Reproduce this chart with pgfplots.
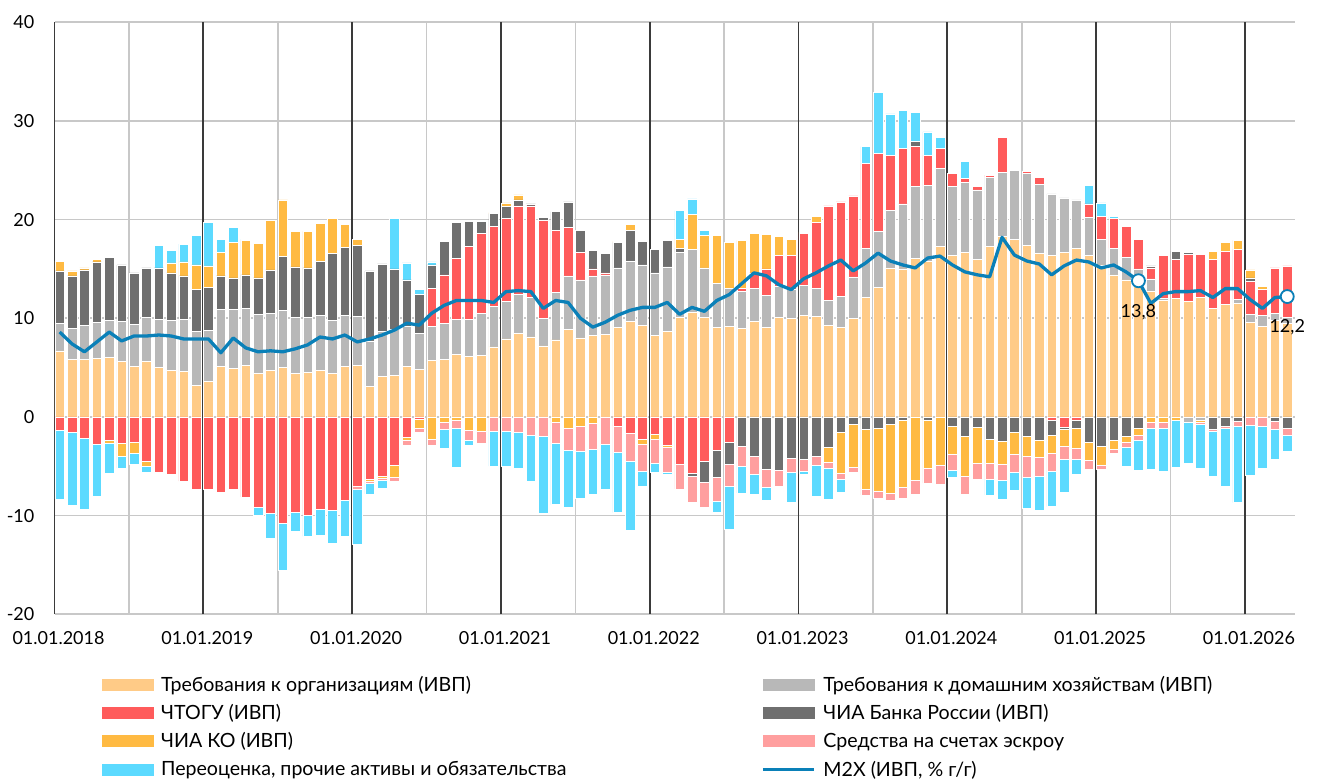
\documentclass[border=0pt]{standalone}
\usepackage{fontspec}
\setmainfont{Lato}
\usepackage{pgfplots}
\pgfplotsset{compat=1.18}
\usepackage{pgfplotstable}

\definecolor{orgc}{HTML}{FFCB87}
\definecolor{hhc}{HTML}{B8B8B8}
\definecolor{govc}{HTML}{FF5B5B}
\definecolor{cbrc}{HTML}{6F6F6F}
\definecolor{koc}{HTML}{FFBA42}
\definecolor{escc}{HTML}{FF9F9F}
\definecolor{revc}{HTML}{5CDAFF}
\definecolor{m2xc}{HTML}{0A80B8}
\definecolor{gridc}{HTML}{C8C8C8}
\definecolor{yearc}{HTML}{3A3A3A}

\pgfplotstableread{
i org hh gov cbr ko esc rev m2x
0 6.7 2.8 -1.4 5.3 1.0 0 -6.9 8.6
1 5.8 3.2 -1.6 5.3 0.5 0 -7.4 7.4
2 5.8 3.5 -2.2 5.6 0.2 0 -7.2 6.6
3 5.9 3.7 -2.8 6.1 0.3 0 -5.2 7.6
4 6.0 3.8 -2.4 6.4 -0.3 0 -3.0 8.6
5 5.6 4.1 -2.7 5.7 -1.3 0 -1.2 7.7
6 5.1 4.3 -2.6 5.2 -1.1 0 -1.1 8.2
7 5.6 4.5 -4.5 5.0 -0.5 0 -0.6 8.2
8 5.0 4.9 -5.6 5.2 -0.1 0 2.3 8.3
9 4.7 5.1 -5.8 4.8 1.0 0 1.3 8.2
10 4.6 5.3 -6.5 4.4 1.4 0 1.8 7.9
11 3.2 5.5 -7.3 4.2 2.5 0 3.0 7.9
12 3.6 5.2 -7.3 4.3 2.2 0 4.4 7.9
13 5.1 5.8 -7.6 3.4 2.4 0 1.3 6.5
14 4.9 6.0 -7.3 3.2 3.6 0 1.5 8.0
15 5.2 5.8 -8.1 3.4 3.5 0 0.1 7.0
16 4.4 6.0 -9.2 3.7 3.5 0 -0.8 6.6
17 4.7 5.8 -9.8 4.4 5.0 0 -2.5 6.7
18 5.0 5.8 -10.8 5.5 5.7 0 -4.7 6.6
19 4.4 5.7 -9.7 5.1 3.6 0 -1.9 6.9
20 4.5 5.6 -10.0 5.0 3.7 0 -2.1 7.3
21 4.7 5.6 -9.4 5.5 3.8 0 -2.6 8.1
22 4.4 5.4 -9.5 6.8 3.5 0 -3.3 7.9
23 5.1 5.2 -8.4 6.9 2.3 0 -3.7 8.3
24 5.2 5.0 -7.0 7.2 0.6 -0.3 -5.6 7.6
25 3.1 4.6 -6.3 7.1 -0.2 -0.2 -1.1 7.9
26 4.1 4.6 -6.0 6.8 -0.2 -0.2 -0.8 8.3
27 4.2 4.7 -4.9 6.1 -1.2 -0.4 5.1 8.8
28 5.1 4.1 -2.1 4.7 -0.3 -0.5 1.7 9.5
29 4.8 3.7 -0.2 3.9 -0.9 -0.5 0.5 9.3
30 5.7 3.5 3.8 2.4 -2.3 -0.6 0.3 10.5
31 5.8 3.7 4.9 3.4 -0.5 -0.8 -1.9 11.3
32 6.3 3.6 6.2 3.6 -0.3 -0.9 -3.9 11.8
33 6.1 3.8 7.4 2.5 -1.4 -1.0 -0.5 11.8
34 6.2 4.3 8.1 1.2 -1.5 -1.2 0 11.8
35 7.1 4.1 8.1 1.3 0.1 -1.5 -3.5 11.6
36 7.9 3.8 8.4 1.2 0.4 -1.5 -3.5 12.7
37 8.5 3.9 9.0 0.6 0.5 -1.6 -3.6 12.8
38 8.1 4.0 9.3 0.2 0 -1.9 -4.6 12.7
39 7.2 2.8 9.9 0.3 0 -2.0 -7.8 11.0
40 7.8 4.8 6.3 1.9 -0.5 -2.2 -6.2 11.8
41 8.9 5.4 4.9 2.6 -1.1 -2.3 -5.8 11.6
42 8.0 5.9 2.8 2.2 -0.9 -2.6 -4.7 10.0
43 8.3 6.0 0.7 1.9 -0.6 -2.7 -4.5 9.1
44 8.4 6.0 0.2 2.0 0 -2.8 -4.5 9.6
45 9.1 6.0 -0.9 2.6 0.1 -2.7 -6.1 10.3
46 9.7 6.1 -1.7 3.1 0.6 -2.8 -7.0 10.8
47 9.3 6.1 -2.3 2.4 -0.5 -2.7 -1.5 11.1
48 8.3 6.3 -1.8 2.4 -0.5 -2.4 -0.9 11.1
49 8.7 6.5 -2.9 2.7 -0.2 -2.5 -0.2 11.6
50 10.1 6.6 -4.8 0.4 0.9 -2.5 2.9 10.4
51 10.6 6.4 -5.7 -0.3 3.5 -2.7 1.6 11.1
52 10.1 5.0 -4.5 -2.1 3.3 -2.6 0.5 10.7
53 9.1 4.4 -3.4 -2.7 4.9 -2.4 -1.2 11.8
54 9.2 3.8 -2.6 -2.2 4.7 -2.2 -4.4 12.4
55 9.0 3.7 0.3 -3.0 4.9 -2.0 -2.7 13.5
56 9.7 3.3 1.6 -4.0 4.0 -1.8 -2.0 14.6
57 9.1 3.2 2.7 -5.3 3.5 -1.8 -1.3 14.3
58 10.1 3.1 3.2 -5.4 1.9 -1.6 -0.1 13.4
59 10.0 2.9 3.5 -4.2 1.6 -1.4 -3.0 12.9
60 10.3 3.0 5.3 -4.3 0.1 -1.2 -0.3 14.0
61 10.2 2.8 6.7 -4.0 0.6 -0.9 -3.1 14.6
62 9.3 2.5 9.6 -3.1 -1.5 -0.6 -3.1 15.3
63 9.1 3.1 9.6 -1.6 -4.1 -0.6 -1.3 15.9
64 10.0 4.2 8.2 -0.7 -4.4 -0.5 -0.1 14.8
65 12.1 5.0 8.6 -1.3 -6.0 -0.6 1.7 15.6
66 13.1 5.7 7.9 -1.2 -6.3 -0.7 6.2 16.6
67 15.1 5.8 5.6 -0.7 -7.0 -0.7 4.2 15.8
68 15.0 6.6 5.6 -0.3 -6.8 -1.1 3.9 15.4
69 16.1 7.3 4.0 0.5 -6.4 -1.4 3.0 15.1
70 15.8 7.7 3.0 -0.3 -4.9 -1.5 2.4 16.1
71 17.3 7.9 2.0 0 -4.9 -1.9 1.1 16.3
72 16.4 7.0 1.3 -0.9 -2.9 -1.6 -0.7 15.4
73 16.7 7.1 0.4 -2.0 -4.0 -1.8 1.7 14.7
74 16.0 7.0 0.4 -1.0 -3.7 -1.6 0.05 14.4
75 17.3 7.0 0.2 -2.3 -2.4 -1.6 -1.6 14.2
76 18.3 6.5 3.5 -2.5 -2.3 -1.6 -1.9 18.2
77 18.0 7.0 0 -1.6 -2.2 -1.8 -1.8 16.4
78 17.4 7.3 0.2 -2.0 -2.0 -2.1 -3.2 15.8
79 16.6 7.0 0.7 -2.4 -1.7 -1.9 -3.5 15.5
80 16.4 6.2 -0.3 -1.6 -1.8 -1.8 -3.6 14.4
81 16.7 5.5 -1.0 -0.3 -1.7 -1.3 -3.3 15.3
82 17.1 4.9 -0.3 -0.9 -2.0 -1.1 -1.5 15.9
83 16.4 3.8 1.4 -2.6 -1.8 -0.9 1.9 15.7
84 15.4 2.6 2.3 -3.0 -1.9 -0.4 1.4 15.1
85 14.4 2.7 3.0 -2.4 -0.9 -0.4 0.2 15.4
86 13.9 2.3 3.1 -2.0 -0.6 -0.5 -1.9 14.7
87 14.0 1.0 3.0 -1.2 -0.7 -0.5 -3.0 13.8
88 12.7 1.3 1.1 0.2 -0.5 -0.6 -4.2 11.5
89 11.8 0.2 4.4 0 -0.5 -0.6 -4.4 12.5
90 12.0 0 4.0 0.8 -0.3 0 -4.8 12.7
91 11.7 -0.5 4.8 0.2 0 0 -4.2 12.7
92 12.1 -0.3 4.4 0.1 -0.2 -0.2 -4.5 12.8
93 11.0 0 5.0 -1.3 0.8 -0.2 -4.5 12.1
94 11.4 0 5.4 -0.9 0.9 -0.3 -5.8 13.0
95 11.5 0.4 5.1 -0.4 0.9 -0.5 -7.8 13.0
96 9.6 0.8 3.3 0.4 0.8 -0.8 -5.1 11.9
97 9.2 1.1 2.6 0 0.3 -0.9 -4.3 11.0
98 9.8 0.7 4.6 -0.4 0 -0.9 -3.0 12.1
99 9.5 0.6 5.2 -1.1 0 -0.8 -1.6 12.2
}\data

\pgfplotstableread{
i v lab
87 13.8 13,8
99 12.2 12,2
}\marks

\pgfplotsset{
  base/.style={at={(44,168)}, anchor=south west, scale only axis,
    width=1240pt, height=592pt, xmin=0, xmax=100, ymin=-20, ymax=40},
  hid/.style={base, axis lines=none, xtick=\empty, ytick=\empty},
  stk/.style={hid, ybar stacked, bar width=0.76, bar shift=0pt},
  seg/.style={fill=#1, draw=white, line width=0.5pt},
}

\newcommand{\lbox}[1]{\makebox[597pt][l]{#1}}

\begin{document}
\begin{tikzpicture}[x=1pt,y=1pt]
% horizontal grid and tick labels
\begin{axis}[base, axis line style={draw=none}, tick style={draw=none},
  ymajorgrids, major grid style={gridc, line width=1.5pt},
  ytick={-20,-10,...,40}, yticklabels={-20,-10,0,10,20,30,40},
  xtick={0,12,...,96},
  xticklabels={01.01.2018,01.01.2019,01.01.2020,01.01.2021,01.01.2022,01.01.2023,01.01.2024,01.01.2025,01.01.2026},
  tick label style={font=\fontsize{18}{20}\selectfont, text=black},
  yticklabel style={inner sep=0pt, xshift=-20pt},
  xticklabel style={inner sep=0pt, yshift=-17pt, xshift=4pt}]
\end{axis}
% vertical lines
\begin{axis}[base, axis line style={draw=none}, tick style={draw=none},
  xtick={0,12,...,96}, minor xtick={6,18,...,90}, xticklabels={},
  ytick=\empty, xmajorgrids, xminorgrids,
  major grid style={yearc, line width=1.8pt},
  minor grid style={gridc, line width=1.5pt}]
\end{axis}
% positive parts
\begin{axis}[stk]
\addplot[seg=orgc] table[x expr=\thisrow{i}+0.41, y expr={max(\thisrow{org},0)}] {\data};
\addplot[seg=hhc]  table[x expr=\thisrow{i}+0.41, y expr={max(\thisrow{hh},0)}] {\data};
\addplot[seg=govc] table[x expr=\thisrow{i}+0.41, y expr={max(\thisrow{gov},0)}] {\data};
\addplot[seg=cbrc] table[x expr=\thisrow{i}+0.41, y expr={max(\thisrow{cbr},0)}] {\data};
\addplot[seg=koc]  table[x expr=\thisrow{i}+0.41, y expr={max(\thisrow{ko},0)}] {\data};
\addplot[seg=escc] table[x expr=\thisrow{i}+0.41, y expr={max(\thisrow{esc},0)}] {\data};
\addplot[seg=revc] table[x expr=\thisrow{i}+0.41, y expr={max(\thisrow{rev},0)}] {\data};
\end{axis}
% negative parts
\begin{axis}[stk]
\addplot[seg=orgc] table[x expr=\thisrow{i}+0.41, y expr={min(\thisrow{org},0)}] {\data};
\addplot[seg=hhc]  table[x expr=\thisrow{i}+0.41, y expr={min(\thisrow{hh},0)}] {\data};
\addplot[seg=govc] table[x expr=\thisrow{i}+0.41, y expr={min(\thisrow{gov},0)}] {\data};
\addplot[seg=cbrc] table[x expr=\thisrow{i}+0.41, y expr={min(\thisrow{cbr},0)}] {\data};
\addplot[seg=koc]  table[x expr=\thisrow{i}+0.41, y expr={min(\thisrow{ko},0)}] {\data};
\addplot[seg=escc] table[x expr=\thisrow{i}+0.41, y expr={min(\thisrow{esc},0)}] {\data};
\addplot[seg=revc] table[x expr=\thisrow{i}+0.41, y expr={min(\thisrow{rev},0)}] {\data};
\end{axis}
% line, marks, legend
\begin{axis}[hid, clip=false,
  legend columns=2, legend cell align=left,
  legend style={at={(axis description cs:0.0379,-0.099)}, anchor=north west,
    draw=none, fill=none, inner sep=0pt, row sep=5.6pt,
    font=\fontsize{19.6}{21}\selectfont,
    nodes={inner sep=3pt},
    /tikz/every odd column/.append style={column sep=5pt}}]
\addlegendimage{legend image code/.code={\fill[orgc] (0pt,-5.5pt) rectangle (51pt,5.5pt);}}
\addlegendimage{legend image code/.code={\fill[hhc] (0pt,-5.5pt) rectangle (51pt,5.5pt);}}
\addlegendimage{legend image code/.code={\fill[govc] (0pt,-5.5pt) rectangle (51pt,5.5pt);}}
\addlegendimage{legend image code/.code={\fill[cbrc] (0pt,-5.5pt) rectangle (51pt,5.5pt);}}
\addlegendimage{legend image code/.code={\fill[koc] (0pt,-5.5pt) rectangle (51pt,5.5pt);}}
\addlegendimage{legend image code/.code={\fill[escc] (0pt,-5.5pt) rectangle (51pt,5.5pt);}}
\addlegendimage{legend image code/.code={\fill[revc] (0pt,-5.5pt) rectangle (51pt,5.5pt);}}
\addlegendimage{legend image code/.code={\draw[m2xc, line width=3.3pt] (0pt,0pt) -- (51pt,0pt);}}
\legend{\lbox{Требования к организациям (ИВП)}, Требования к домашним хозяйствам (ИВП),
  \lbox{ЧТОГУ (ИВП)}, ЧИА Банка России (ИВП),
  \lbox{ЧИА КО (ИВП)}, Средства на счетах эскроу,
  \lbox{Переоценка, прочие активы и обязательства}, {M2X (ИВП, \% г/г)}}
\addplot[m2xc, line width=3.3pt, line join=round, forget plot]
  table[x expr=\thisrow{i}+0.41, y=m2x] {\data};
\addplot[only marks, mark=*, mark size=6.5pt,
  mark options={fill=white, draw=m2xc, line width=1.8pt},
  nodes near coords, point meta=explicit symbolic,
  nodes near coords style={anchor=center, yshift=-31pt, text=black,
    font=\fontsize{18}{20}\selectfont}, forget plot]
  table[x expr=\thisrow{i}+0.41, y=v, meta=lab] {\marks};
\end{axis}
\pgfresetboundingbox
\useasboundingbox (0,0) rectangle (1322,780);
\end{tikzpicture}
\end{document}
